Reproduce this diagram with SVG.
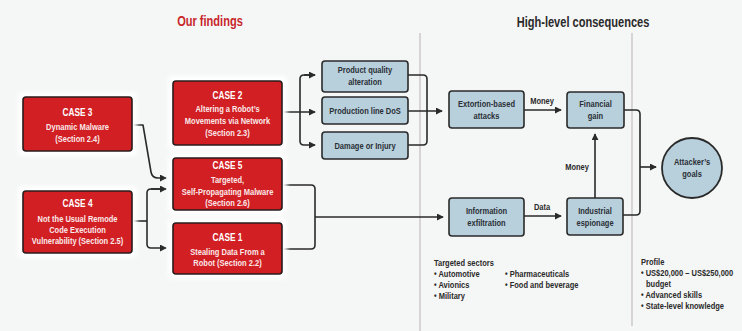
<svg xmlns="http://www.w3.org/2000/svg" width="742" height="331" viewBox="0 0 742 331">
  <defs>
    <marker id="arr" viewBox="0 0 8 8" refX="7" refY="4" markerWidth="7" markerHeight="7" markerUnits="userSpaceOnUse" orient="auto">
      <path d="M0,0 L8,4 L0,8 Z" fill="#2a2a2a"/>
    </marker>
    <filter id="soft" x="-20%" y="-20%" width="140%" height="140%">
      <feGaussianBlur stdDeviation="2"/>
    </filter>
  </defs>
  <style>
    text { font-family: "Liberation Sans", Arial, sans-serif; font-weight: bold;
           transform-box: fill-box; transform-origin: left center; transform: scaleX(0.79); }
    text.c { transform-origin: center; }
    .title { font-size: 14px; }
    .red { fill: #d11f24; stroke: #2a1c1c; stroke-width: 1.6; }
    .blue { fill: #b8cfdc; stroke: #2a2a2a; stroke-width: 1.6; }
    .halo { fill: #ffffff; filter: url(#soft); }
    .hd { font-size: 10.5px; fill: #ffffff; text-anchor: middle; }
    .bd { font-size: 9.5px; fill: #fbe9e9; text-anchor: middle; }
    .bl { font-size: 9.5px; fill: #2a2f36; text-anchor: middle; }
    .lab { font-size: 9.5px; fill: #2a2a2a; text-anchor: middle; }
    .note { font-size: 9.5px; fill: #2a2a2a; }
    .wire { fill: none; stroke: #2a2a2a; stroke-width: 1.6; stroke-linejoin: round; }
    .div { stroke: #b9b3b0; stroke-width: 1; }
  </style>

  <rect width="742" height="331" fill="#f5f6f6"/>

  <!-- section dividers -->
  <line class="div" x1="420" y1="33" x2="420" y2="331"/>
  <line class="div" x1="632" y1="33" x2="632" y2="326"/>

  <!-- headings -->
  <text class="title c" x="210" y="26" text-anchor="middle" fill="#c8262b">Our findings</text>
  <text class="title c" x="583" y="27" text-anchor="middle" fill="#2a2a2a">High-level consequences</text>

  <!-- connectors -->
  <g id="connectors">
    <!-- case 3 to case 5 -->
    <path class="wire" d="M132,125 H143 L151,172 Q152,178 158,178 H166" marker-end="url(#arr)"/>
    <!-- case 4 fan-out -->
    <path class="wire" d="M132,221 H147"/>
    <path class="wire" d="M166,189 H151 Q147,189 147,193 V244 Q147,248 151,248 H166" marker-end="url(#arr)"/>
    <path class="wire" d="M151,189 H166" marker-end="url(#arr)"/>
    <!-- case 2 fan-out -->
    <path class="wire" d="M282,112 H315" marker-end="url(#arr)"/>
    <path class="wire" d="M315,75 H304 Q300,75 300,79 V141 Q300,145 304,145 H315" marker-end="url(#arr)"/>
    <path class="wire" d="M304,75 H315" marker-end="url(#arr)"/>
    <!-- impacts merge to extortion -->
    <path class="wire" d="M408,75 H423 Q427,75 427,79 V141 Q427,145 423,145 H408"/>
    <path class="wire" d="M408,111 H442" marker-end="url(#arr)"/>
    <!-- case 5 / case 1 merge to exfiltration -->
    <path class="wire" d="M282,185 H311 Q315,185 315,189 V245 Q315,249 311,249 H282"/>
    <path class="wire" d="M315,217 H443" marker-end="url(#arr)"/>
    <!-- extortion to financial gain -->
    <path class="wire" d="M524,110 H561" marker-end="url(#arr)"/>
    <!-- exfiltration to espionage -->
    <path class="wire" d="M524,216 H561" marker-end="url(#arr)"/>
    <!-- espionage to financial gain -->
    <path class="wire" d="M595,198 V134" marker-end="url(#arr)"/>
    <!-- consequences to goals -->
    <path class="wire" d="M624,110 H636 Q640,110 640,114 V211 Q640,215 636,215 H623"/>
    <path class="wire" d="M640,167 H656" marker-end="url(#arr)"/>
    <text class="lab c" x="542" y="104">Money</text>
    <text class="lab c" x="542" y="210">Data</text>
    <text class="lab c" x="577" y="170">Money</text>
  </g>

  <!-- findings -->
  <g id="case3">
    <rect class="halo" x="18" y="92" width="119" height="64" rx="4"/>
    <rect class="red" x="23" y="97" width="109" height="54" rx="3"/>
    <text class="hd c" x="77.5" y="116">CASE 3</text>
    <text class="bd c" x="77.5" y="130">Dynamic Malware</text>
    <text class="bd c" x="77.5" y="142">(Section 2.4)</text>
  </g>
  <g id="case4">
    <rect class="halo" x="18" y="186" width="119" height="72" rx="4"/>
    <rect class="red" x="23" y="191" width="109" height="62" rx="3"/>
    <text class="hd c" x="77.5" y="207">CASE 4</text>
    <text class="bd c" x="77.5" y="222">Not the Usual Remode</text>
    <text class="bd c" x="77.5" y="233">Code Execution</text>
    <text class="bd c" x="77.5" y="244">Vulnerability (Section 2.5)</text>
  </g>
  <g id="case2">
    <rect class="halo" x="168" y="76" width="119" height="74" rx="4"/>
    <rect class="red" x="173" y="81" width="109" height="64" rx="3"/>
    <text class="hd c" x="227.5" y="99">CASE 2</text>
    <text class="bd c" x="227.5" y="112">Altering a Robot’s</text>
    <text class="bd c" x="227.5" y="124">Movements via Network</text>
    <text class="bd c" x="227.5" y="136">(Section 2.3)</text>
  </g>
  <g id="case5">
    <rect class="halo" x="168" y="153" width="119" height="62" rx="4"/>
    <rect class="red" x="173" y="158" width="109" height="52" rx="3"/>
    <text class="hd c" x="227.5" y="169">CASE 5</text>
    <text class="bd c" x="227.5" y="183">Targeted,</text>
    <text class="bd c" x="227.5" y="195">Self-Propagating Malware</text>
    <text class="bd c" x="227.5" y="206">(Section 2.6)</text>
  </g>
  <g id="case1">
    <rect class="halo" x="168" y="218" width="119" height="61" rx="4"/>
    <rect class="red" x="173" y="223" width="109" height="51" rx="3"/>
    <text class="hd c" x="227.5" y="241">CASE 1</text>
    <text class="bd c" x="227.5" y="255">Stealing Data From a</text>
    <text class="bd c" x="227.5" y="266">Robot (Section 2.2)</text>
  </g>

  <!-- impacts -->
  <g id="quality">
    <rect class="blue" x="322" y="61" width="86" height="31" rx="3"/>
    <text class="bl c" x="365" y="73">Product quality</text>
    <text class="bl c" x="365" y="85">alteration</text>
  </g>
  <g id="dos">
    <rect class="blue" x="322" y="97" width="86" height="27" rx="3"/>
    <text class="bl c" x="365" y="114">Production line DoS</text>
  </g>
  <g id="injury">
    <rect class="blue" x="322" y="132" width="86" height="27" rx="3"/>
    <text class="bl c" x="365" y="149">Damage or Injury</text>
  </g>

  <!-- consequences -->
  <g id="extortion">
    <rect class="blue" x="449" y="91" width="75" height="37" rx="3"/>
    <text class="bl c" x="486.5" y="107">Extortion-based</text>
    <text class="bl c" x="486.5" y="119">attacks</text>
  </g>
  <g id="exfiltration">
    <rect class="blue" x="449" y="198" width="75" height="38" rx="3"/>
    <text class="bl c" x="486.5" y="214">Information</text>
    <text class="bl c" x="486.5" y="226">exfiltration</text>
  </g>
  <g id="financial">
    <rect class="blue" x="567" y="92" width="57" height="36" rx="3"/>
    <text class="bl c" x="595.5" y="107">Financial</text>
    <text class="bl c" x="595.5" y="119">gain</text>
  </g>
  <g id="espionage">
    <rect class="blue" x="567" y="198" width="56" height="37" rx="3"/>
    <text class="bl c" x="595" y="214">Industrial</text>
    <text class="bl c" x="595" y="226">espionage</text>
  </g>
  <g id="goals">
    <circle cx="692" cy="168" r="30" fill="#b8cfdc" stroke="#2a2a2a" stroke-width="1.8"/>
    <text class="bl c" x="692" y="165">Attacker’s</text>
    <text class="bl c" x="692" y="177">goals</text>
  </g>

  <!-- notes -->
  <g id="sectors">
    <text class="note" x="434" y="266">Targeted sectors</text>
    <text class="note" x="434" y="277">• Automotive</text>
    <text class="note" x="434" y="288">• Avionics</text>
    <text class="note" x="434" y="299">• Military</text>
    <text class="note" x="505" y="277">• Pharmaceuticals</text>
    <text class="note" x="505" y="288">• Food and beverage</text>
  </g>
  <g id="profile">
    <text class="note" x="641" y="265">Profile</text>
    <text class="note" x="641" y="276">• US$20,000 – US$250,000</text>
    <text class="note" x="646" y="287">budget</text>
    <text class="note" x="641" y="298">• Advanced skills</text>
    <text class="note" x="641" y="309">• State-level knowledge</text>
  </g>
</svg>
